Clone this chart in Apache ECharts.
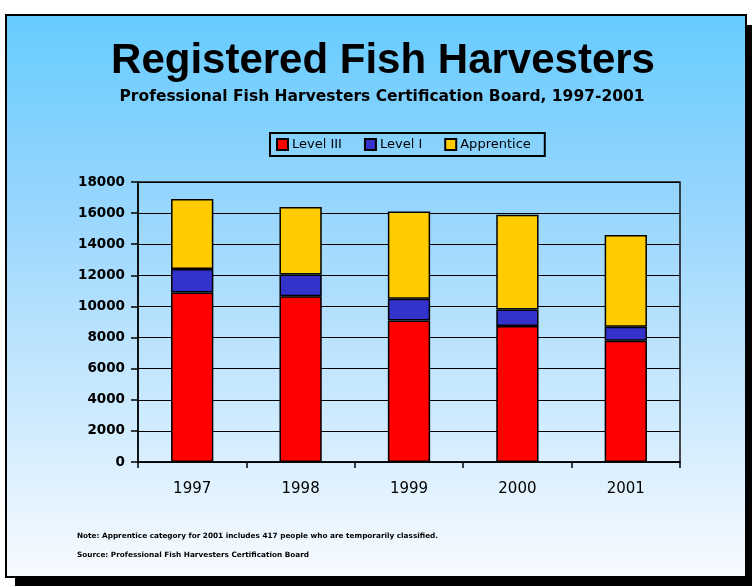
<!DOCTYPE html>
<html>
<head>
<meta charset="utf-8">
<script src="https://cdn.jsdelivr.net/npm/echarts@6/dist/echarts.min.js"></script>
<style>
  html, body { margin: 0; padding: 0; background: #ffffff; }
  #chart { width: 754px; height: 587px; }
</style>
</head>
<body>
<div id="chart"></div>
<script>
// Registered fish harvesters by certification level, 1997-2001
const years = ['1997', '1998', '1999', '2000', '2001'];
const levelIII = [10900, 10650, 9100, 8750, 7800];
const levelI = [1500, 1400, 1400, 1050, 900];
const apprentice = [4500, 4350, 5600, 6100, 5900];
const seriesNames = ['Level III', 'Level I', 'Apprentice'];
const seriesColors = ['#ff0000', '#3333cc', '#ffcc00'];
const yTicks = { min: 0, max: 18000, step: 2000 };

const titleText = 'Registered Fish Harvesters';
const subtitleText = 'Professional Fish Harvesters Certification Board, 1997-2001';
const noteText = 'Note: Apprentice category for 2001 includes 417 people who are temporarily classified.';
const sourceText = 'Source: Professional Fish Harvesters Certification Board';

const chart = echarts.init(document.getElementById('chart'));

function barSeries(name, data, color) {
  return {
    name: name,
    type: 'bar',
    stack: 'total',
    data: data,
    barWidth: '39%',
    itemStyle: { color: color, borderColor: '#000', borderWidth: 1.5 }
  };
}

chart.setOption({
  animation: false,
  backgroundColor: '#ffffff',
  graphic: [
    // drop shadow of the panel
    { type: 'rect', z: -10, shape: { x: 15, y: 25, width: 737, height: 561 }, style: { fill: '#000' } },
    // panel with sky gradient
    { type: 'rect', z: -9, shape: { x: 6, y: 15, width: 740, height: 562 },
      style: {
        fill: new echarts.graphic.LinearGradient(0, 0, 0, 1, [
          { offset: 0, color: '#66ccff' },
          { offset: 0.35, color: '#99d6fd' },
          { offset: 1, color: '#f8fbff' }
        ]),
        stroke: '#000', lineWidth: 2
      } },
    { type: 'text', x: 383, y: 40, style: { text: titleText, align: 'center', font: 'bold 42px "Liberation Sans", Arial, sans-serif', fill: '#000' } },
    { type: 'text', x: 382, y: 89, style: { text: subtitleText, align: 'center', font: 'bold 15.5px "DejaVu Sans", sans-serif', fill: '#000' } },
    { type: 'text', left: 77, top: 533, style: { text: noteText, font: 'bold 7.3px "DejaVu Sans", sans-serif', fill: '#000' } },
    { type: 'text', left: 77, top: 552, style: { text: sourceText, font: 'bold 7.3px "DejaVu Sans", sans-serif', fill: '#000' } }
  ],
  legend: {
    data: seriesNames,
    left: 270,
    top: 133,
    padding: [5, 14, 5, 6],
    borderColor: '#000',
    borderWidth: 2,
    itemWidth: 11,
    itemHeight: 11,
    itemGap: 22,
    icon: 'rect',
    textStyle: { color: '#000', fontSize: 13, fontFamily: '"DejaVu Sans", sans-serif', padding: [0, 0, 0, -1] }
  },
  grid: {
    left: 138,
    right: 74,
    top: 182,
    bottom: 125,
    show: true,
    borderColor: '#111',
    borderWidth: 1.5,
    backgroundColor: 'transparent'
  },
  xAxis: {
    type: 'category',
    data: years,
    axisLine: { lineStyle: { color: '#000', width: 1.5 } },
    axisTick: { show: true, alignWithLabel: false, length: 6, lineStyle: { color: '#000', width: 1.5 } },
    axisLabel: { color: '#000', fontSize: 15, fontFamily: '"DejaVu Sans", sans-serif', margin: 20 }
  },
  yAxis: {
    type: 'value',
    min: yTicks.min,
    max: yTicks.max,
    interval: yTicks.step,
    axisLine: { show: true, lineStyle: { color: '#000', width: 1.5 } },
    axisTick: { show: true, length: 7, lineStyle: { color: '#000', width: 1.5 } },
    splitLine: { show: true, lineStyle: { color: '#000', width: 1.2 } },
    axisLabel: {
      color: '#000', fontSize: 13.5, fontWeight: 'bold', fontFamily: '"DejaVu Sans", sans-serif', margin: 13,
      formatter: function (v) { return String(v); }
    }
  },
  series: [
    barSeries(seriesNames[0], levelIII, seriesColors[0]),
    barSeries(seriesNames[1], levelI, seriesColors[1]),
    barSeries(seriesNames[2], apprentice, seriesColors[2])
  ]
});
</script>
</body>
</html>
